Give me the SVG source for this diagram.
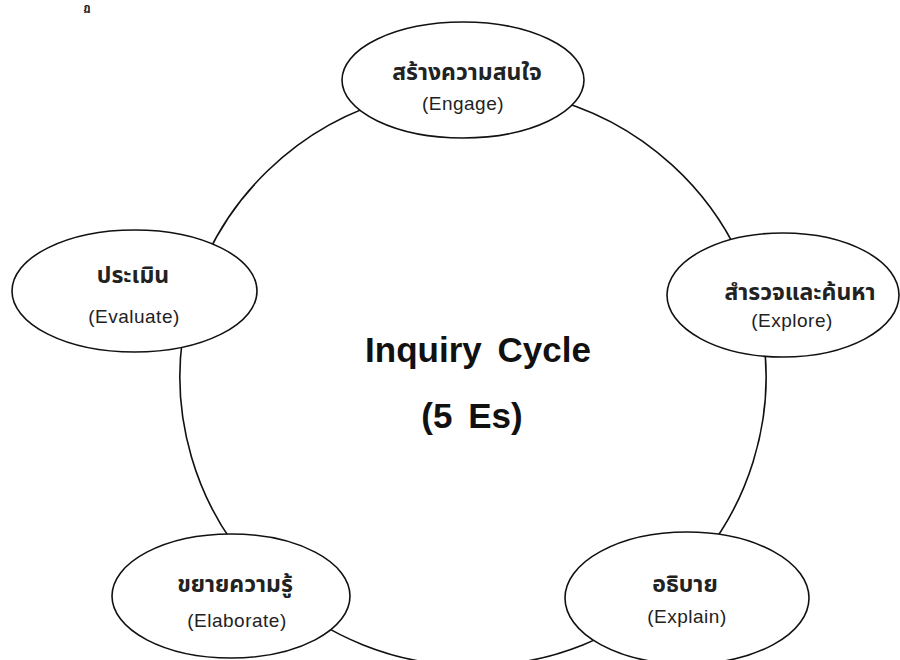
<svg xmlns="http://www.w3.org/2000/svg" width="900" height="660" viewBox="0 0 900 660">
<style>
.node{fill:#fff;stroke:#111;stroke-width:1.6}
.conn{fill:none;stroke:#111;stroke-width:1.6}
.th{font-family:"Noto Sans Thai","Noto Sans","DejaVu Sans",sans-serif;font-size:23px;font-weight:bold;fill:#222;text-anchor:middle}
.en{font-family:"Liberation Sans",Arial,sans-serif;font-size:19px;letter-spacing:0.5px;fill:#222;text-anchor:middle}
.title{font-family:"Liberation Sans",Arial,sans-serif;font-size:35px;font-weight:bold;fill:#111;text-anchor:middle;word-spacing:6px}
</style>
<rect width="900" height="660" fill="#fff"/>
<text x="87" y="11" font-family="'Noto Sans Thai','Noto Sans',sans-serif" font-size="11" font-weight="bold" fill="#222" text-anchor="middle">ฏ</text>
<g id="connectors">
<path class="conn" d="M540,95.7 A293,289 0 0 1 752.4,290"/>
<path class="conn" d="M758,310 A293,289 0 0 1 671,590"/>
<path class="conn" d="M671,590 A293,289 0 0 1 275,590"/>
<path class="conn" d="M275,590 A293,289 0 0 1 190.6,300"/>
<path class="conn" d="M190.6,300 A293,289 0 0 1 400,97"/>
</g>
<g id="engage">
<ellipse class="node" cx="463" cy="80" rx="121" ry="58"/>
<text class="th" x="467" y="80">สร้างความสนใจ</text>
<text class="en" x="463" y="110">(Engage)</text>
</g>
<g id="explore">
<ellipse class="node" cx="783" cy="295" rx="116" ry="62"/>
<text class="th" x="800" y="300">สำรวจและค้นหา</text>
<text class="en" x="792" y="327">(Explore)</text>
</g>
<g id="explain">
<ellipse class="node" cx="687" cy="598" rx="122" ry="66"/>
<text class="th" x="685" y="592">อธิบาย</text>
<text class="en" x="687" y="623">(Explain)</text>
</g>
<g id="elaborate">
<ellipse class="node" cx="231" cy="596" rx="119" ry="62"/>
<text class="th" x="235" y="592">ขยายความรู้</text>
<text class="en" x="237" y="627">(Elaborate)</text>
</g>
<g id="evaluate">
<ellipse class="node" cx="134.5" cy="291" rx="122.5" ry="61"/>
<text class="th" x="133" y="283">ประเมิน</text>
<text class="en" x="134" y="323">(Evaluate)</text>
</g>
<g id="center">
<text class="title" x="478" y="362">Inquiry Cycle</text>
<text class="title" x="472" y="428">(5 Es)</text>
</g>
</svg>
